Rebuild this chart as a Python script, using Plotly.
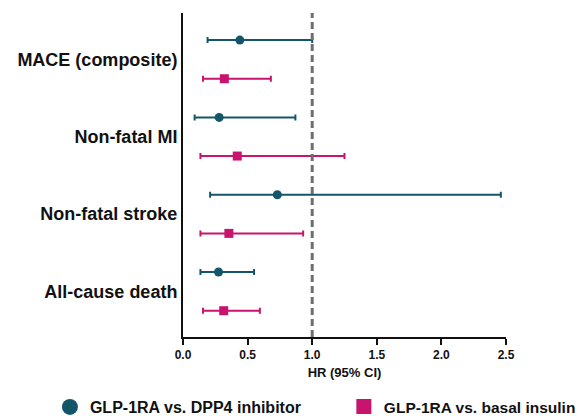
import plotly.graph_objects as go

categories = ["MACE (composite)", "Non-fatal MI", "Non-fatal stroke", "All-cause death"]

dpp4_hr = [0.44, 0.28, 0.73, 0.275]
dpp4_lo = [0.19, 0.09, 0.21, 0.135]
dpp4_hi = [1.00, 0.87, 2.46, 0.55]

ins_hr = [0.32, 0.42, 0.355, 0.315]
ins_lo = [0.155, 0.135, 0.135, 0.155]
ins_hi = [0.68, 1.25, 0.93, 0.595]

series_names = ["GLP-1RA vs. DPP4 inhibitor", "GLP-1RA vs. basal insulin"]
x_ticks = [0.0, 0.5, 1.0, 1.5, 2.0, 2.5]
x_ticktext = ["0.0", "0.5", "1.0", "1.5", "2.0", "2.5"]
x_title = "HR (95% CI)"

TEAL = "#145669"
MAGENTA = "#C8146E"
FONT = "Liberation Sans, Arial, sans-serif"

n = len(categories)
ycenter = [n - 1 - i for i in range(n)]
y_dpp4 = [c + 0.25 for c in ycenter]
y_ins = [c - 0.25 for c in ycenter]

fig = go.Figure()

fig.add_trace(go.Scatter(
    x=dpp4_hr, y=y_dpp4, mode="markers", showlegend=False,
    marker=dict(symbol="circle", size=9, color=TEAL),
    error_x=dict(type="data", symmetric=False,
                 array=[h - m for h, m in zip(dpp4_hi, dpp4_hr)],
                 arrayminus=[m - l for m, l in zip(dpp4_hr, dpp4_lo)],
                 color=TEAL, thickness=2, width=3),
))
fig.add_trace(go.Scatter(
    x=ins_hr, y=y_ins, mode="markers", showlegend=False,
    marker=dict(symbol="square", size=9, color=MAGENTA),
    error_x=dict(type="data", symmetric=False,
                 array=[h - m for h, m in zip(ins_hi, ins_hr)],
                 arrayminus=[m - l for m, l in zip(ins_hr, ins_lo)],
                 color=MAGENTA, thickness=2, width=3),
))

# legend entries
fig.add_trace(go.Scatter(x=[None], y=[None], mode="markers", name=series_names[0],
                         marker=dict(symbol="circle", size=16, color=TEAL), legend="legend"))
fig.add_trace(go.Scatter(x=[None], y=[None], mode="markers", name=series_names[1],
                         marker=dict(symbol="square", size=15, color=MAGENTA), legend="legend2"))

fig.add_shape(type="line", xref="x", yref="paper", x0=1.0, x1=1.0, y0=0, y1=1,
              line=dict(color="#6E6E6E", width=3, dash="7px,4px"))

legend_font = dict(family=FONT, size=16, color="#111111", weight="bold")
legend2_font = dict(family=FONT, size=15.5, color="#111111", weight="bold")

fig.update_layout(
    width=582, height=416,
    margin=dict(l=183, r=76, t=13, b=79, autoexpand=False),
    paper_bgcolor="white", plot_bgcolor="white",
    font=dict(family=FONT, color="#111111"),
    legend=dict(x=-0.412, y=-0.216, xanchor="left", yanchor="middle", font=legend_font,
                bgcolor="rgba(0,0,0,0)", itemsizing="trace"),
    legend2=dict(x=0.498, y=-0.216, xanchor="left", yanchor="middle", font=legend2_font,
                 bgcolor="rgba(0,0,0,0)", itemsizing="trace"),
    xaxis=dict(range=[0, 2.5], tickvals=x_ticks, ticktext=x_ticktext,
               showgrid=False, zeroline=False, showline=True, linecolor="#111111", linewidth=2,
               ticks="outside", ticklen=6, tickwidth=2, tickcolor="#111111",
               tickfont=dict(family=FONT, size=12, color="#111111", weight="bold"),
               title=dict(text=x_title, font=dict(family=FONT, size=13, color="#111111", weight="bold"),
                          standoff=6)),
    yaxis=dict(range=[-0.59, 3.6], tickvals=ycenter, ticktext=categories,
               showgrid=False, zeroline=False, showline=True, linecolor="#111111", linewidth=2,
               ticks="", tickfont=dict(family=FONT, size=18, color="#111111", weight="bold")),
)

fig.write_html("out.html")
